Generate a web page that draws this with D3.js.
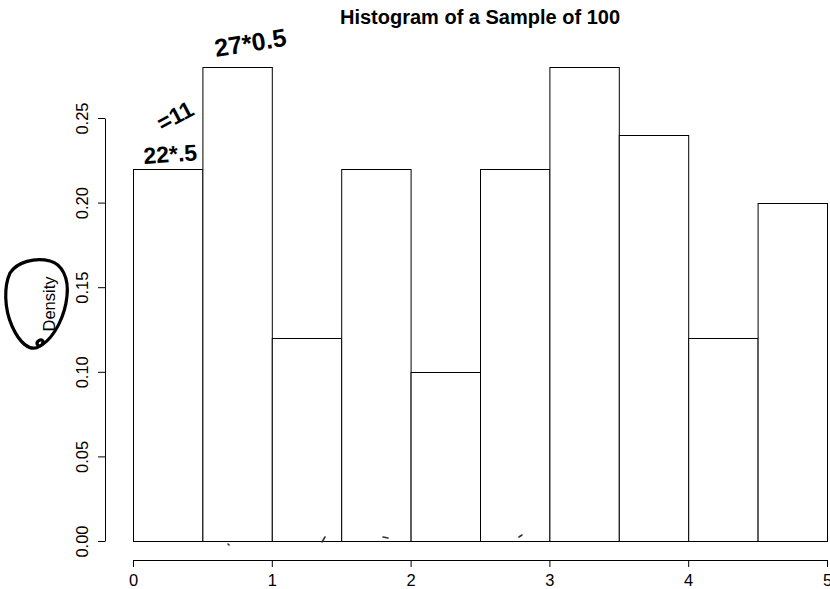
<!DOCTYPE html>
<html>
<head>
<meta charset="utf-8">
<script src="https://cdn.jsdelivr.net/npm/d3@7"></script>
<style>
  html, body { margin: 0; padding: 0; background: #fff; }
  svg { display: block; }
  text { font-family: "Liberation Sans", Arial, Helvetica, sans-serif; }
</style>
</head>
<body>
<svg id="chart" width="830" height="589"></svg>
<script>
// ---- data ----
const binStarts = [0, 0.5, 1, 1.5, 2, 2.5, 3, 3.5, 4, 4.5];
const binWidth = 0.5;
const densities = [0.22, 0.28, 0.12, 0.22, 0.10, 0.22, 0.28, 0.24, 0.12, 0.20];
const xTicks = [0, 1, 2, 3, 4, 5];
const yTicks = [0, 0.05, 0.10, 0.15, 0.20, 0.25];
const title = "Histogram of a Sample of 100";
const yLabel = "Density";
const notes = ["27*0.5", "=11", "22*.5"];

const svg = d3.select("#chart");
const x = d3.scaleLinear().domain([0, 5]).range([133, 827]);
const y = d3.scaleLinear().domain([0, 0.25]).range([541, 118]);

// bars
svg.append("g").selectAll("rect")
  .data(binStarts.map((s, i) => ({ s, d: densities[i] })))
  .join("rect")
  .attr("x", d => x(d.s) + 0.5)
  .attr("y", d => Math.round(y(d.d)) + 0.5)
  .attr("width", d => x(d.s + binWidth) - x(d.s))
  .attr("height", d => Math.round(y(0)) - Math.round(y(d.d)))
  .attr("fill", "#fff")
  .attr("stroke", "#000")
  .attr("stroke-width", 1);

// x axis
const xAxis = svg.append("g")
  .attr("transform", "translate(0,560)")
  .call(d3.axisBottom(x).tickValues(xTicks).tickFormat(d3.format("d")).tickSize(7).tickSizeOuter(0));
xAxis.selectAll("text").attr("y", 26).attr("dy", 0)
  .style("font-size", "16.5px").attr("fill", "#000");

// y axis
const yAxis = svg.append("g")
  .attr("transform", "translate(105,0)")
  .call(d3.axisLeft(y).tickValues(yTicks).tickFormat(d3.format(".2f")).tickSize(7).tickSizeOuter(0));
yAxis.selectAll("text")
  .attr("x", 0).attr("dy", 0)
  .attr("text-anchor", "middle")
  .attr("transform", "translate(-17,0) rotate(-90)")
  .style("font-size", "16.5px").attr("fill", "#000");
svg.selectAll(".domain, .tick line").attr("stroke", "#000");
svg.selectAll(".tick text").attr("font-family", null);

// title
svg.append("text")
  .attr("x", 480).attr("y", 24)
  .attr("text-anchor", "middle")
  .style("font-size", "20px").style("font-weight", "bold")
  .text(title);

// y label
svg.append("text")
  .attr("transform", "translate(55,304) rotate(-90)")
  .attr("text-anchor", "middle")
  .style("font-size", "16.5px")
  .text(yLabel);

// handwritten annotations
const hand = svg.append("g").attr("fill", "#000")
  .style("font-family", "'DejaVu Sans', sans-serif").style("font-weight", "bold");
hand.append("text").attr("transform", "translate(216,57) rotate(-9)")
  .style("font-size", "25px").text(notes[0]);
hand.append("text").attr("transform", "translate(179,123) rotate(-28)")
  .attr("text-anchor", "middle").style("font-size", "23px").text(notes[1]);
hand.append("text").attr("transform", "translate(144,164) rotate(-4)")
  .style("font-size", "23px").text(notes[2]);

// circle around the y label
svg.append("path")
  .attr("d", "M40,346 C30,353 19,342 12,326 C4,308 4,286 10,273 C17,262 35,257 50,261 C62,264 69,278 67,296 C65,316 55,336 42,345 C37,348 35,342 40,340 C44,339 44,344 40,346")
  .attr("fill", "none").attr("stroke", "#000").attr("stroke-width", 3.2)
  .attr("stroke-linecap", "round").attr("stroke-linejoin", "round");

// small stray pen marks
const marks = [[228,544,229,545],[322,542,325,537],[383,537,388,538],[519,537,522,535]];
svg.append("g").selectAll("line").data(marks).join("line")
  .attr("x1", d => d[0]).attr("y1", d => d[1]).attr("x2", d => d[2]).attr("y2", d => d[3])
  .attr("stroke", "#333").attr("stroke-width", 1.6).attr("stroke-linecap", "round");
</script>
</body>
</html>
